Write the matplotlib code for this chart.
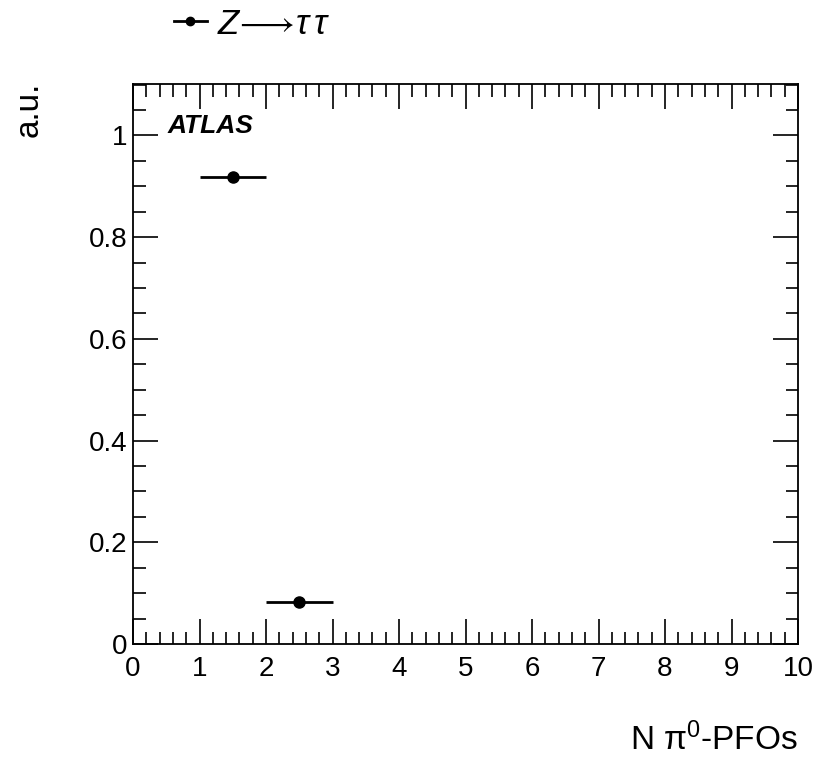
import matplotlib
matplotlib.use("Agg")
import matplotlib.pyplot as plt
from matplotlib.ticker import MultipleLocator
from matplotlib.lines import Line2D

plt.rcParams['font.family'] = ['Liberation Sans', 'DejaVu Sans']
plt.rcParams['mathtext.fontset'] = 'custom'
plt.rcParams['mathtext.rm'] = 'Liberation Sans'
plt.rcParams['mathtext.it'] = 'Liberation Sans:italic'

# data
bin_centers = [1.5, 2.5]
bin_half_widths = [0.5, 0.5]
values = [0.918, 0.083]
series_label = r"$Z\!\longrightarrow\!\tau\,\tau$"

W, H = 819, 767
fig = plt.figure(figsize=(W / 100, H / 100), dpi=100)
left, right, top, bottom = 133, 798, 83.5, 644
ax = fig.add_axes([left / W, 1 - bottom / H, (right - left) / W, (bottom - top) / H])

ax.errorbar(bin_centers, values, xerr=bin_half_widths, fmt='o', color='black',
            ms=8, lw=2, capsize=0)

ax.set_xlim(0, 10)
ax.set_ylim(0, 1.102)
ax.xaxis.set_major_locator(MultipleLocator(1))
ax.xaxis.set_minor_locator(MultipleLocator(0.2))
ax.yaxis.set_major_locator(MultipleLocator(0.2))
ax.yaxis.set_minor_locator(MultipleLocator(0.05))
ax.tick_params(which='both', direction='in', top=True, right=True, labelsize=20, width=1.2)
ax.tick_params(which='major', length=18)
ax.tick_params(which='minor', length=9)
ax.tick_params(axis='x', pad=9)
ax.tick_params(axis='y', pad=4)
ax.set_yticks([0, 0.2, 0.4, 0.6, 0.8, 1.0])
ax.set_yticklabels(['0', '0.2', '0.4', '0.6', '0.8', '1'])
for s in ax.spines.values():
    s.set_linewidth(1.3)

ax.text(0.052, 0.925, 'ATLAS', transform=ax.transAxes, fontsize=19,
        fontweight='bold', fontstyle='italic', va='center', ha='left')

fig.text(798 / W, 1 - 740 / H, r'N π$^{\mathregular{0}}$-PFOs', ha='right', va='center', fontsize=24)
fig.text(29 / W, 1 - 82 / H, 'a.u.', rotation=90, ha='center', va='top', fontsize=24)

handle = Line2D([], [], color='black', marker='o', ms=6, lw=2)
fig.legend([handle], [series_label], loc='center left',
           bbox_to_anchor=(174 / W, 1 - 24 / H),
           frameon=False, fontsize=25, handlelength=0.95, handletextpad=0.3,
           borderpad=0, borderaxespad=0)

fig.savefig('out.png', dpi=100)
